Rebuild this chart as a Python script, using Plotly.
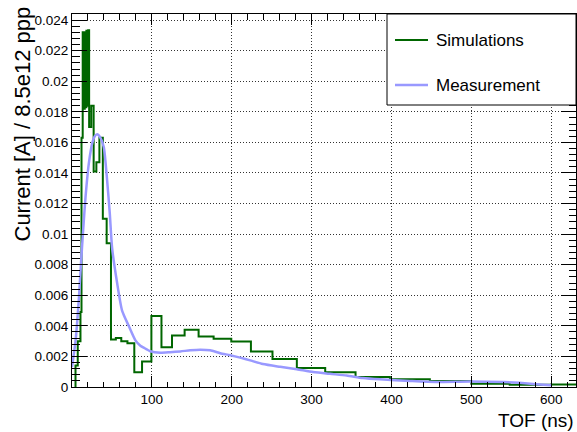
import plotly.graph_objects as go

# ---- data ----
sim_edges = [4.4, 7.2, 10.6, 11.9, 13.4, 15.1, 16.0, 17.0, 18.0, 19.1, 20.2, 21.45,
             24.1, 27.1, 30.5, 34.3, 38.6, 43.4, 48.8, 54.9, 61.7, 69.4, 78.0, 87.7,
             99.4, 112.0, 125.2, 141.0, 158.5, 177.3, 199.4, 224.0, 251.0, 281.5,
             317.0, 355.0, 398.0, 448.0, 500.0, 548.0, 600.0, 660.0]
sim_values = [0.0014, 0.0030, 0.0049, 0.0163, 0.0232, 0.0182, 0.0232, 0.0183, 0.0233,
              0.0184, 0.02334, 0.0170, 0.0184, 0.0141, 0.0147, 0.0163, 0.0110, 0.0094,
              0.0031, 0.0032, 0.0030, 0.00287, 0.00096, 0.00167, 0.00465, 0.0026,
              0.00337, 0.00374, 0.0033, 0.00315, 0.00298, 0.00233, 0.00183, 0.00124,
              0.00096, 0.00066, 0.0005, 0.0004, 0.00022, 0.00015, 0.00016]

meas_t = [0, 4.4, 8.5, 11.5, 14, 16.9, 21, 25.6, 28.5, 31.5, 35.6, 39.8, 44, 47.3, 50.2,
          56.5, 62.7, 71, 79.4, 85.6, 89.8, 98, 110.6, 123, 135.6, 148, 160.6, 173,
          185.6, 198, 210.6, 223, 239, 260.6, 281.5, 302, 323, 344, 364, 385.6, 423,
          456, 498, 540, 560, 581, 600]
meas_v = [0.0013, 0.0030, 0.0057, 0.0083, 0.0103, 0.0124, 0.0146, 0.0160, 0.0164,
          0.01653, 0.0163, 0.0157, 0.0135, 0.01136, 0.0091, 0.0068, 0.0050, 0.0040,
          0.00305, 0.0027, 0.00257, 0.00234, 0.00224, 0.00228, 0.00233, 0.0024,
          0.00244, 0.0024, 0.00221, 0.00208, 0.00192, 0.00174, 0.0015, 0.00132,
          0.00116, 0.00098, 0.00086, 0.00075, 0.00059, 0.0005, 0.0004, 0.00033,
          0.00036, 0.00032, 0.00027, 0.00018, 0.00011]

y_tick_vals = [0, 0.002, 0.004, 0.006, 0.008, 0.01, 0.012, 0.014, 0.016, 0.018, 0.02, 0.022, 0.024]
y_tick_text = ["0", "0.002", "0.004", "0.006", "0.008", "0.01", "0.012", "0.014",
               "0.016", "0.018", "0.02", "0.022", "0.024"]
x_tick_vals = [100, 200, 300, 400, 500, 600]
x_tick_text = ["100", "200", "300", "400", "500", "600"]

series_names = ["Simulations", "Measurement"]
sim_color = "#006600"
meas_color = "#9999ff"

FONT = "Liberation Sans, Arial, Helvetica, sans-serif"

# histogram outline (ROOT style)
hx = [sim_edges[0]] + list(sim_edges)
hy = [0] + list(sim_values) + [sim_values[-1]]

fig = go.Figure()
fig.add_trace(go.Scatter(x=hx, y=hy, mode="lines", line=dict(color=sim_color, width=2, shape="hv"),
                         name=series_names[0], showlegend=False))
fig.add_trace(go.Scatter(x=meas_t, y=meas_v, mode="lines",
                         line=dict(color=meas_color, width=2.5, shape="spline", smoothing=0.6),
                         name=series_names[1], showlegend=False))

axis_common = dict(showline=True, linecolor="black", linewidth=1, mirror="ticks",
                   ticks="inside", tickcolor="black", tickwidth=1, zeroline=False,
                   showgrid=True, gridcolor="rgba(0,0,0,0.8)", gridwidth=1, griddash="1px,2px",
                   tickfont=dict(family=FONT, size=13.5, color="black"))

fig.update_xaxes(range=[0, 631], tickmode="array", tickvals=x_tick_vals, ticktext=x_tick_text,
                 ticklen=11, minor=dict(dtick=20, tick0=0, ticks="inside", ticklen=5.5,
                                        tickcolor="black", showgrid=False),
                 **axis_common)
fig.update_yaxes(range=[0, 0.0244], tickmode="array", tickvals=y_tick_vals, ticktext=y_tick_text,
                 ticklen=15, minor=dict(dtick=0.0004, tick0=0, ticks="inside", ticklen=7.5,
                                        tickcolor="black", showgrid=False),
                 **axis_common)

W, H = 577, 432
L, R, T, B = 72, 1, 14, 45
pw, ph = W - L - R, H - T - B


def px2paper_x(px):
    return (px - L) / pw


def px2paper_y(py):
    return (H - B - py) / ph


shapes = [
    dict(type="rect", xref="paper", yref="paper", x0=px2paper_x(387), x1=1.0,
         y0=px2paper_y(105), y1=1.0, line=dict(color="black", width=1), fillcolor="white",
         layer="above"),
    dict(type="line", xref="paper", yref="paper", x0=px2paper_x(395), x1=px2paper_x(428),
         y0=px2paper_y(40), y1=px2paper_y(40), line=dict(color=sim_color, width=2), layer="above"),
    dict(type="line", xref="paper", yref="paper", x0=px2paper_x(395), x1=px2paper_x(428),
         y0=px2paper_y(85), y1=px2paper_y(85), line=dict(color=meas_color, width=2.5), layer="above"),
]

annotations = [
    dict(text=series_names[0], xref="paper", yref="paper", x=px2paper_x(434), y=px2paper_y(40),
         xanchor="left", yanchor="middle", showarrow=False,
         font=dict(family=FONT, size=17, color="black")),
    dict(text=series_names[1], xref="paper", yref="paper", x=px2paper_x(434), y=px2paper_y(85),
         xanchor="left", yanchor="middle", showarrow=False,
         font=dict(family=FONT, size=17, color="black")),
    dict(text="Current [A] / 8.5e12 ppp", xref="paper", yref="paper", x=px2paper_x(22),
         y=px2paper_y(5), xanchor="center", yanchor="top", textangle=-90, showarrow=False,
         font=dict(family=FONT, size=22, color="black")),
    dict(text="TOF (ns)", xref="paper", yref="paper", x=px2paper_x(576), y=px2paper_y(420),
         xanchor="right", yanchor="middle", showarrow=False,
         font=dict(family=FONT, size=19, color="black")),
]

fig.update_layout(width=W, height=H, margin=dict(l=L, r=R, t=T, b=B, autoexpand=False),
                  paper_bgcolor="white", plot_bgcolor="white",
                  shapes=shapes, annotations=annotations, showlegend=False)

fig.write_html("out.html", config={"displayModeBar": False},
               post_script="document.body.style.margin='0';document.body.style.padding='0';"
                           "document.documentElement.style.overflow='hidden';")
